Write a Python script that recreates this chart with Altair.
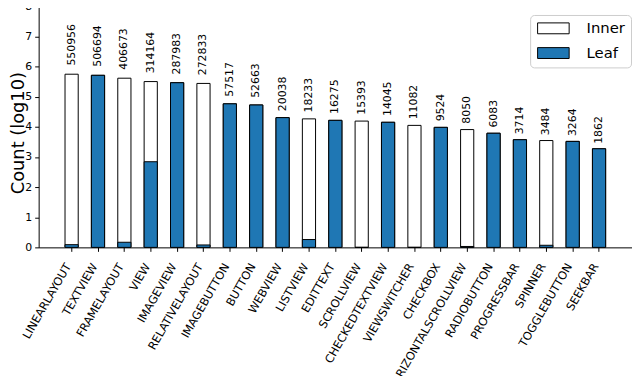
import altair as alt
import pandas as pd

categories = ["LINEARLAYOUT", "TEXTVIEW", "FRAMELAYOUT", "VIEW", "IMAGEVIEW",
              "RELATIVELAYOUT", "IMAGEBUTTON", "BUTTON", "WEBVIEW", "LISTVIEW",
              "EDITTEXT", "SCROLLVIEW", "CHECKEDTEXTVIEW", "VIEWSWITCHER", "CHECKBOX",
              "HORIZONTALSCROLLVIEW", "RADIOBUTTON", "PROGRESSBAR", "SPINNER",
              "TOGGLEBUTTON", "SEEKBAR"]
counts = [550956, 506694, 406673, 314164, 287983, 272833, 57517, 52663, 20038,
          18233, 16275, 15393, 14045, 11082, 9524, 8050, 6083, 3714, 3484, 3264, 1862]
kinds = ["Inner", "Leaf", "Inner", "Inner", "Leaf", "Inner", "Leaf", "Leaf", "Leaf",
         "Inner", "Leaf", "Inner", "Leaf", "Inner", "Leaf", "Inner", "Leaf", "Leaf",
         "Inner", "Leaf", "Leaf"]
# blue (leaf) part drawn inside the inner bars, in log10 units (None: bar is all leaf)
leaf_part = [0.09, None, 0.17, 2.84, None, 0.08, None, None, None, 0.26, None, 0.0,
             None, 0.0, None, 0.03, None, None, 0.07, None, None]
y_ticks = [0, 1, 2, 3, 4, 5, 6, 7, 8]

df = pd.DataFrame({"cat": categories, "count": counts, "kind": kinds,
                   "leaf_part": leaf_part})

FONT = "DejaVu Sans"
color_scale = alt.Scale(domain=["Inner", "Leaf"], range=["white", "#1f77b4"])
legend = alt.Legend(
    title=None, orient="none", legendX=497, legendY=9, padding=6, cornerRadius=4,
    strokeColor="#cccccc", fillColor="white", labelFontSize=15, labelFont=FONT,
    labelColor="black", symbolType="M-2.9,-1H2.9V1H-2.9Z", symbolSize=121,
    symbolStrokeColor="black", symbolStrokeWidth=1, symbolOffset=10, labelOffset=26,
    rowPadding=9, symbolOpacity=1,
)

base = alt.Chart(df).transform_calculate(
    h="log(datum.count)/LN10",
    blue="datum.kind == 'Leaf' ? log(datum.count)/LN10 : datum.leaf_part",
    ly="log(datum.count)/LN10*1.05",
)

xaxis = alt.Axis(title=None, labelAngle=-60, labelAlign="right",
                 labelBaseline="top", labelPadding=10, labelOffset=-8,
                 tickSize=4, labelFontSize=11.5, labelFont=FONT,
                 labelColor="black", tickColor="black", domainColor="black")
xscale = alt.Scale(paddingInner=0, paddingOuter=0.75)
yscale = alt.Scale(domain=[0, 8], nice=False)
yaxis = alt.Axis(values=y_ticks, labelOverlap=False, grid=False,
                 tickSize=4, labelPadding=3,
                 labelFontSize=11, labelFont=FONT, labelColor="black",
                 tickColor="black", domainColor="black",
                 title="Count (log10)", titleFontSize=18, titleFont=FONT,
                 titleFontWeight="normal", titleColor="black", titleX=-29,
                 titleY=128, titleAngle=270, titleBaseline="top", titleAlign="center")

x = alt.X("cat:N", sort=categories, scale=xscale, axis=xaxis)

white = base.transform_calculate(part="'Inner'").mark_bar(
    stroke="black", strokeWidth=1, width=alt.RelativeBandSize(0.5)).encode(
    x=x,
    y=alt.Y("h:Q", scale=yscale, axis=yaxis),
    fill=alt.Fill("part:N", scale=color_scale, legend=legend),
)
blue = base.transform_calculate(part="'Leaf'").mark_bar(
    stroke="black", strokeWidth=1, width=alt.RelativeBandSize(0.5)).encode(
    x=x,
    y=alt.Y("blue:Q", scale=yscale, axis=yaxis),
    fill=alt.Fill("part:N", scale=color_scale, legend=legend),
)
labels = base.mark_text(angle=270, align="left", baseline="middle", fontSize=11,
                        font=FONT, color="black").encode(
    x=x,
    y=alt.Y("ly:Q", scale=yscale, axis=yaxis),
    text="count:N",
)
top = alt.Chart(alt.Data(values=[{}])).mark_rule(color="black", strokeWidth=1).encode(
    y=alt.value(0)
)

chart = alt.layer(white, blue, labels, top).properties(
    width=600, height=244,
    autosize=alt.AutoSizeParams(type="none"),
    padding={"left": 31, "top": -4, "right": 0, "bottom": 128},
    background="white",
).configure_view(stroke=None).configure_axisY(
    labelOverlap=False, values=y_ticks
).configure_axis(labelOverlap=False)

chart.save("out.html", embed_options={"renderer": "svg", "actions": False})
